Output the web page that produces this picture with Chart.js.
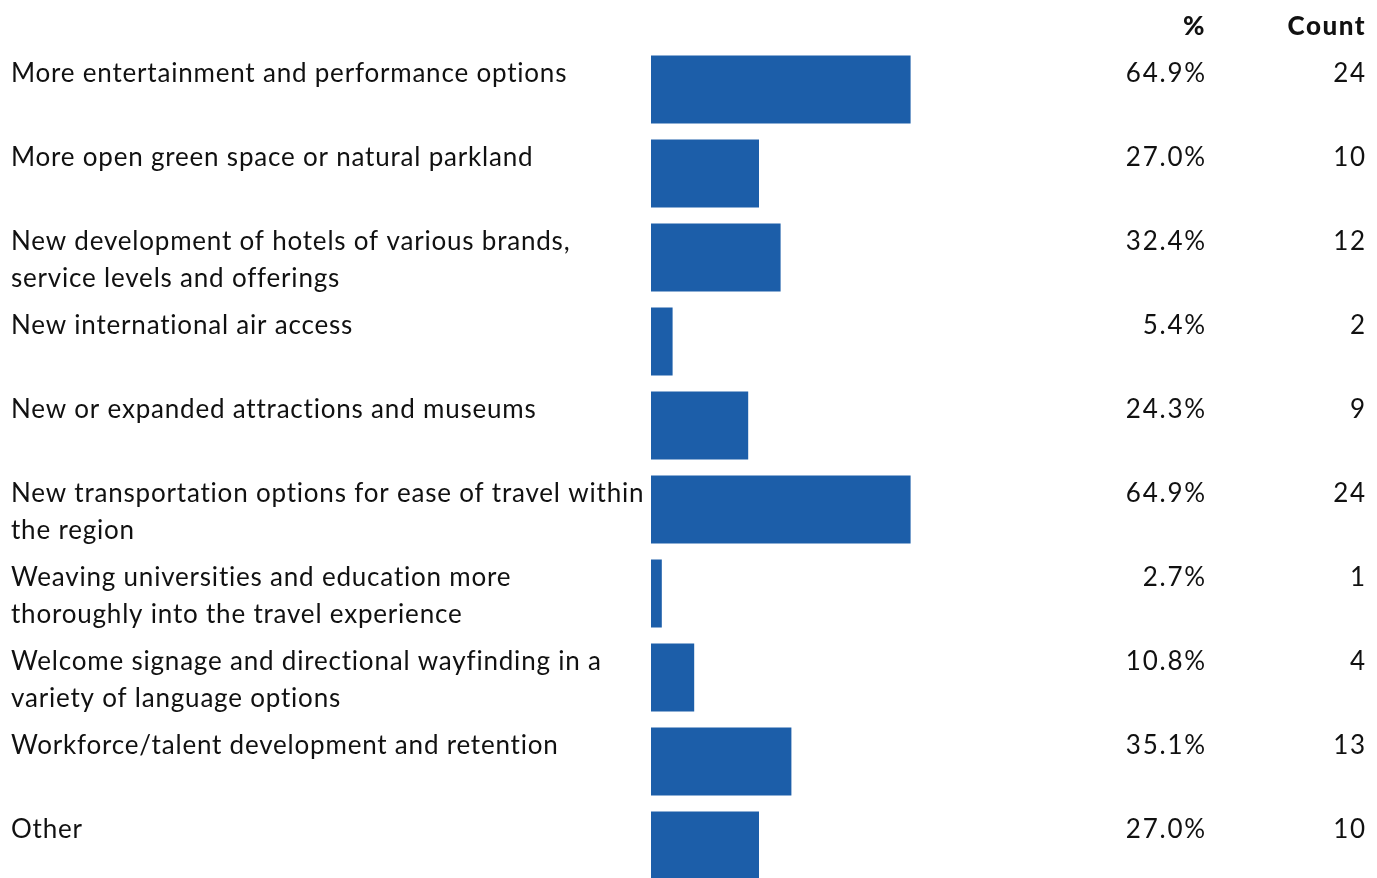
<!DOCTYPE html>
<html>
<head>
<meta charset="utf-8">
<script src="https://cdn.jsdelivr.net/npm/chart.js@4.4.1/dist/chart.umd.min.js"></script>
<style>
  html, body { margin: 0; padding: 0; background: #fff; overflow: hidden; }
  #wrap { position: relative; width: 1377px; height: 900px; }
</style>
</head>
<body>
<div id="wrap"><canvas id="chart"></canvas></div>
<script>
// --- data ---
const categories = [
    ['More entertainment and performance options'],
    ['More open green space or natural parkland'],
    ['New development of hotels of various brands,', 'service levels and offerings'],
    ['New international air access'],
    ['New or expanded attractions and museums'],
    ['New transportation options for ease of travel within', 'the region'],
    ['Weaving universities and education more', 'thoroughly into the travel experience'],
    ['Welcome signage and directional wayfinding in a', 'variety of language options'],
    ['Workforce/talent development and retention'],
    ['Other']
];
const percents = [64.9, 27.0, 32.4, 5.4, 24.3, 64.9, 2.7, 10.8, 35.1, 27.0];
const counts = [24, 10, 12, 2, 9, 24, 1, 4, 13, 10];
const columnHeaders = ['%', 'Count'];

const FONT = 'Lato, "Noto Sans", sans-serif';
const BAR_BLUE = '#1c5ea9';

// draws the left labels and the two right columns
const tablePlugin = {
    id: 'tableText',
    afterDatasetsDraw(chart) {
        const ctx = chart.ctx;
        const bars = chart.getDatasetMeta(0).data;
        ctx.save();
        ctx.fillStyle = '#111';
        ctx.textBaseline = 'alphabetic';

        // header row
        ctx.font = '900 26px ' + FONT;
        ctx.letterSpacing = '1.5px';
        ctx.textAlign = 'right';
        ctx.fillText(columnHeaders[0], 1206, 35);
        ctx.fillText(columnHeaders[1], 1366, 35);

        ctx.font = '26px ' + FONT;
        ctx.letterSpacing = '0.8px';
        bars.forEach((bar, i) => {
            const top = bar.y - bar.height / 2;
            const base = top + 27;
            ctx.textAlign = 'left';
            categories[i].forEach((line, j) => {
                ctx.fillText(line, 11, base + j * 37);
            });
            ctx.textAlign = 'right';
            ctx.letterSpacing = '1.8px';
            ctx.fillText(percents[i].toFixed(1) + '%', 1207, base);
            ctx.fillText(String(counts[i]), 1367, base);
            ctx.letterSpacing = '0.8px';
        });
        ctx.restore();
    }
};

new Chart(document.getElementById('chart'), {
    type: 'bar',
    data: {
        labels: categories,
        datasets: [{
            data: percents,
            backgroundColor: BAR_BLUE,
            borderWidth: 0,
            categoryPercentage: 1,
            barPercentage: 0.81
        }]
    },
    options: {
        indexAxis: 'y',
        responsive: true,
        maintainAspectRatio: false,
        animation: false,
        layout: { padding: { left: 651, right: 326, top: 47.5, bottom: 12.5 } },
        scales: {
            x: { display: false, min: 0, max: 100 },
            y: { display: false }
        },
        plugins: { legend: { display: false }, tooltip: { enabled: false } }
    },
    plugins: [tablePlugin]
});
</script>
</body>
</html>
